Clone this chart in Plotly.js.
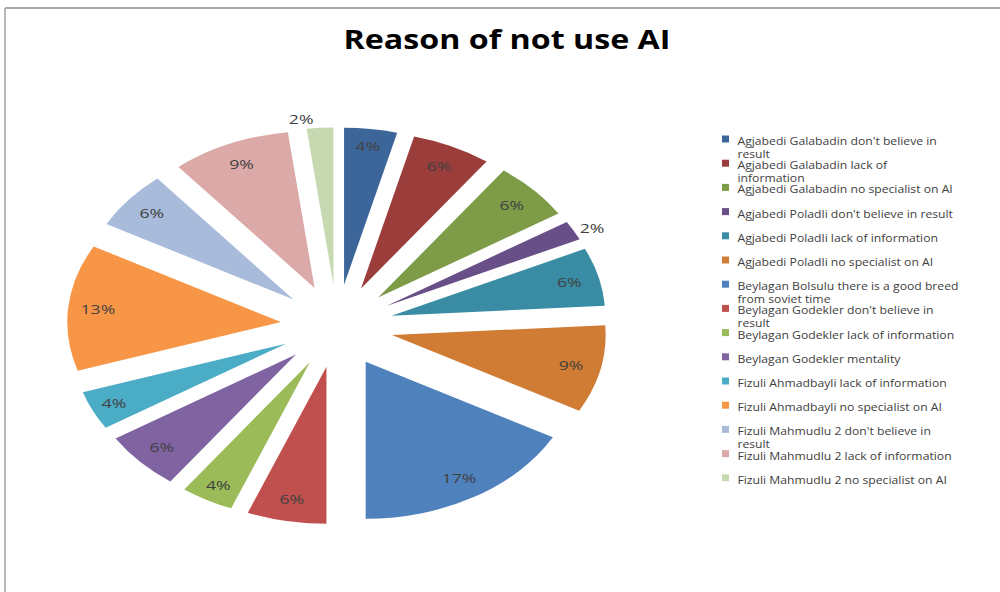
<!DOCTYPE html>
<html>
<head>
<meta charset="utf-8">
<script src="https://cdn.plot.ly/plotly-3.0.1.min.js"></script>
<style>
html,body{margin:0;padding:0;background:#fff;}
#chart{width:1000px;height:592px;}
</style>
</head>
<body>
<div id="chart"></div>
<script>
// ---- data ----
const labels = [
  "Agjabedi Galabadin don't believe in result",
  "Agjabedi Galabadin lack of information",
  "Agjabedi Galabadin no specialist on AI",
  "Agjabedi Poladli don't believe in result",
  "Agjabedi Poladli lack of information",
  "Agjabedi Poladli no specialist on AI",
  "Beylagan Bolsulu there is a good breed from soviet time",
  "Beylagan Godekler don't believe in result",
  "Beylagan Godekler lack of information",
  "Beylagan Godekler mentality",
  "Fizuli Ahmadbayli lack of information",
  "Fizuli Ahmadbayli no specialist on AI",
  "Fizuli Mahmudlu 2 don't believe in result",
  "Fizuli Mahmudlu 2 lack of information",
  "Fizuli Mahmudlu 2 no specialist on AI"
];
const legendLabels = [
  "Agjabedi Galabadin don't believe in<br>result",
  "Agjabedi Galabadin lack of<br>information",
  "Agjabedi Galabadin no specialist on AI",
  "Agjabedi Poladli don't believe in result",
  "Agjabedi Poladli lack of information",
  "Agjabedi Poladli no specialist on AI",
  "Beylagan Bolsulu there is a good breed<br>from soviet time",
  "Beylagan Godekler don't believe in<br>result",
  "Beylagan Godekler lack of information",
  "Beylagan Godekler mentality",
  "Fizuli Ahmadbayli lack of information",
  "Fizuli Ahmadbayli no specialist on AI",
  "Fizuli Mahmudlu 2 don't believe in<br>result",
  "Fizuli Mahmudlu 2 lack of information",
  "Fizuli Mahmudlu 2 no specialist on AI"
];
const values = [4, 6, 6, 2, 6, 9, 17, 6, 4, 6, 4, 13, 6, 9, 2];
const colors = [
  "#3C6699", "#9B3D3B", "#7E9B48", "#694F87", "#3A8CA4", "#D07C34",
  "#4F81BD", "#C0504D", "#9BBB59", "#8064A2", "#4BACC6", "#F79646",
  "#A9BBDA", "#DBA9A8", "#C7D9B0"
];
const titleText = "Reason of not use AI";

// ---- layout constants ----
const W = 1000, H = 592;
const pieCx = 337, pieCy = 326, pieHalf = 198.5, stretchX = 1.36, pullFrac = 0.264;
const legX = 722, legTextX = 735, legY0 = 139, legStep = 24.2, legStretch = 1.22;
const titleCx = 507, titleStretch = 1.24;

const pieDomain = {
  x: [(pieCx - pieHalf) / W, (pieCx + pieHalf) / W],
  y: [1 - (pieCy + pieHalf) / H, 1 - (pieCy - pieHalf) / H]
};
const pctFont = {family: 'Open Sans, sans-serif', size: 13, color: '#404040'};

// coloured slices
const pieTrace = {
  type: 'pie',
  labels: labels,
  values: values,
  sort: false,
  direction: 'clockwise',
  rotation: 0,
  pull: values.map(() => pullFrac),
  marker: {colors: colors, line: {width: 0}},
  textinfo: 'none',
  domain: pieDomain,
  showlegend: false,
  hoverinfo: 'label+percent'
};
// same slices again, transparent ring, carrying the percentage labels near the rim
const labelTrace = {
  type: 'pie',
  labels: labels,
  values: values,
  sort: false,
  direction: 'clockwise',
  rotation: 0,
  hole: 0.72,
  pull: values.map(() => pullFrac),
  marker: {colors: values.map(() => 'rgba(0,0,0,0)'), line: {width: 0}},
  texttemplate: '%{percent:.0%}',
  textposition: values.map(v => v <= 2 ? 'outside' : 'inside'),
  insidetextorientation: 'horizontal',
  textfont: pctFont,
  outsidetextfont: pctFont,
  insidetextfont: pctFont,
  domain: pieDomain,
  showlegend: false,
  hoverinfo: 'skip'
};

const annotations = [];
const shapes = [];
legendLabels.forEach((t, i) => {
  const yc = legY0 + i * legStep;
  annotations.push({
    xref: 'paper', yref: 'paper',
    x: legTextX / W, y: 1 - (yc - 7) / H,
    xanchor: 'left', yanchor: 'top', align: 'left',
    text: t, showarrow: false,
    font: {family: 'Open Sans, sans-serif', size: 10, color: '#404040'}
  });
  shapes.push({
    type: 'rect', xref: 'paper', yref: 'paper',
    x0: legX / W, x1: (legX + 7) / W,
    y0: 1 - (yc + 3.5) / H, y1: 1 - (yc - 3.5) / H,
    fillcolor: colors[i], line: {width: 0}
  });
});
// chart frame lines (top and left)
shapes.push({type: 'line', xref: 'paper', yref: 'paper', x0: 5 / W, x1: 1, y0: 1 - 8 / H, y1: 1 - 8 / H,
  line: {color: '#8c8c8c', width: 1.5}});
shapes.push({type: 'line', xref: 'paper', yref: 'paper', x0: 5 / W, x1: 5 / W, y0: 0, y1: 1 - 8 / H,
  line: {color: '#a0a0a0', width: 1.5}});

const layout = {
  width: W, height: H,
  margin: {l: 0, r: 0, t: 0, b: 0},
  paper_bgcolor: '#ffffff',
  title: {
    text: titleText,
    x: titleCx / W, xanchor: 'center',
    y: 1 - 40 / H, yanchor: 'middle',
    font: {family: 'Open Sans, sans-serif', size: 26, color: '#000000', weight: 'bold'}
  },
  annotations: annotations,
  shapes: shapes,
  showlegend: false
};

function stretchAround(el, cx, cy, s) {
  el.setAttribute('transform',
    'translate(' + cx + ',' + cy + ') scale(' + s + ',1) translate(' + (-cx) + ',' + (-cy) + ')');
}
function stretchAll() {
  const pl = document.querySelector('#chart .pielayer');
  if (pl) stretchAround(pl, pieCx, pieCy, stretchX);
  const tg = document.querySelector('#chart .g-gtitle');
  if (tg) stretchAround(tg, titleCx, 0, titleStretch);
  document.querySelectorAll('#chart .infolayer .annotation').forEach(a => stretchAround(a, legTextX, 0, legStretch));
}

Plotly.newPlot('chart', [pieTrace, labelTrace], layout, {staticPlot: true, displayModeBar: false}).then(stretchAll);
stretchAll();
</script>
</body>
</html>
